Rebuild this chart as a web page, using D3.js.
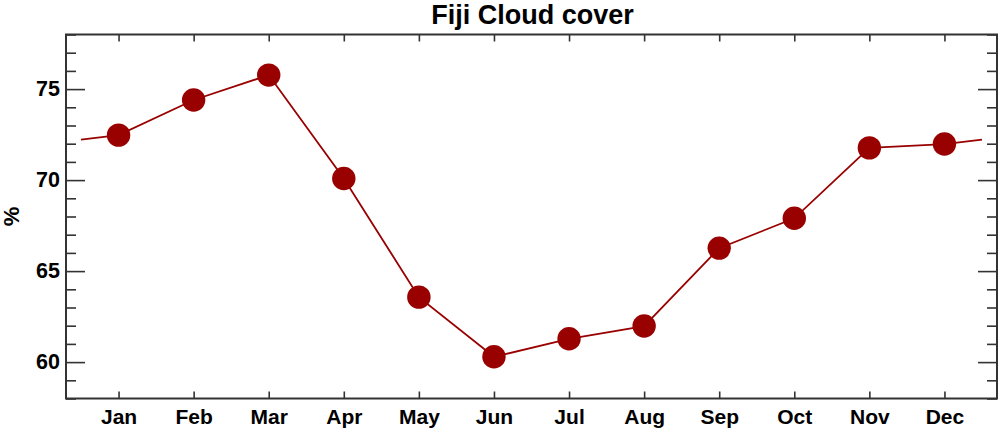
<!DOCTYPE html>
<html>
<head>
<meta charset="utf-8">
<script src="https://cdn.jsdelivr.net/npm/d3@7"></script>
<style>
  html, body { margin: 0; padding: 0; background: #fff; }
  svg { display: block; }
  text { font-family: "Liberation Sans", Arial, Helvetica, sans-serif; font-weight: bold; fill: #000; }
</style>
</head>
<body>
<svg id="chart" width="1000" height="433"></svg>
<script>
const months = ["Jan","Feb","Mar","Apr","May","Jun","Jul","Aug","Sep","Oct","Nov","Dec"];
const cloudCover = [72.47, 74.40, 75.77, 70.09, 63.57, 60.29, 61.28, 61.98, 66.26, 67.90, 71.77, 71.98];
const yTicks = [60, 65, 70, 75];
const title = "Fiji Cloud cover";
const yLabel = "%";

const W = 1000, H = 433;
const pL = 66, pR = 997, pT = 34.5, pB = 398.5;
const color = "#990000";
const axisColor = "#333";

const svg = d3.select("#chart");

const x = d3.scaleLinear().domain([0.3, 12.7]).range([pL, pR]);
const y = d3.scaleLinear().domain([58, 78]).range([pB, pT]);

// cyclic wrap points at half-month beyond ends
const wrapVal = (cloudCover[0] + cloudCover[11]) / 2;
const lineData = [[0.5, wrapVal]]
  .concat(cloudCover.map((v, i) => [i + 1, v]))
  .concat([[12.5, wrapVal]]);

const monthIdx = months.map((m, i) => i + 1);
const minorY = d3.range(58, 79, 1).filter(v => v % 5 !== 0);

function styleAxis(g) {
  g.select(".domain").remove();
  g.selectAll(".tick line").attr("stroke", axisColor).attr("stroke-width", 1.6);
}

// bottom axis (ticks inward)
const xBottom = d3.axisBottom(x).tickValues(monthIdx).tickFormat(d => months[d - 1])
  .tickSizeInner(-7).tickSizeOuter(0).tickPadding(11);
svg.append("g").attr("transform", `translate(0,${pB})`).call(xBottom).call(styleAxis)
  .selectAll("text").style("font-size", "21px");

// top axis
const xTop = d3.axisTop(x).tickValues(monthIdx).tickFormat("").tickSizeInner(-7).tickSizeOuter(0);
svg.append("g").attr("transform", `translate(0,${pT})`).call(xTop).call(styleAxis);

// left axis
const yLeftMinor = d3.axisLeft(y).tickValues(minorY).tickFormat("")
  .tickSizeInner(-10).tickSizeOuter(0);
svg.append("g").attr("transform", `translate(${pL},0)`).call(yLeftMinor).call(styleAxis);
const yLeftMajor = d3.axisLeft(y).tickValues(yTicks).tickFormat(d3.format("d"))
  .tickSizeInner(-19).tickSizeOuter(0).tickPadding(6);
svg.append("g").attr("transform", `translate(${pL},0)`).call(yLeftMajor).call(styleAxis)
  .selectAll("text").style("font-size", "21.5px");

// right axis
const yRightMinor = d3.axisRight(y).tickValues(minorY).tickFormat("")
  .tickSizeInner(-10).tickSizeOuter(0);
svg.append("g").attr("transform", `translate(${pR},0)`).call(yRightMinor).call(styleAxis);
const yRightMajor = d3.axisRight(y).tickValues(yTicks).tickFormat("")
  .tickSizeInner(-19).tickSizeOuter(0);
svg.append("g").attr("transform", `translate(${pR},0)`).call(yRightMajor).call(styleAxis);

// frame
svg.append("rect").attr("x", pL).attr("y", pT)
  .attr("width", pR - pL).attr("height", pB - pT)
  .attr("fill", "none").attr("stroke", axisColor).attr("stroke-width", 2);

// line
const line = d3.line().x(d => x(d[0])).y(d => y(d[1]));
svg.append("path").datum(lineData).attr("d", line)
  .attr("fill", "none").attr("stroke", color).attr("stroke-width", 1.8);

// markers
svg.append("g").selectAll("circle").data(cloudCover).join("circle")
  .attr("cx", (d, i) => x(i + 1)).attr("cy", d => y(d)).attr("r", 11.7)
  .attr("fill", color);

// title
svg.append("text").attr("x", (pL + pR) / 2 + 1).attr("y", 24)
  .attr("text-anchor", "middle").style("font-size", "27px").text(title);

// y label
svg.append("text").attr("transform", `translate(19,${(pT + pB) / 2}) rotate(-90)`)
  .attr("text-anchor", "middle").style("font-size", "22px").text(yLabel);
</script>
</body>
</html>
